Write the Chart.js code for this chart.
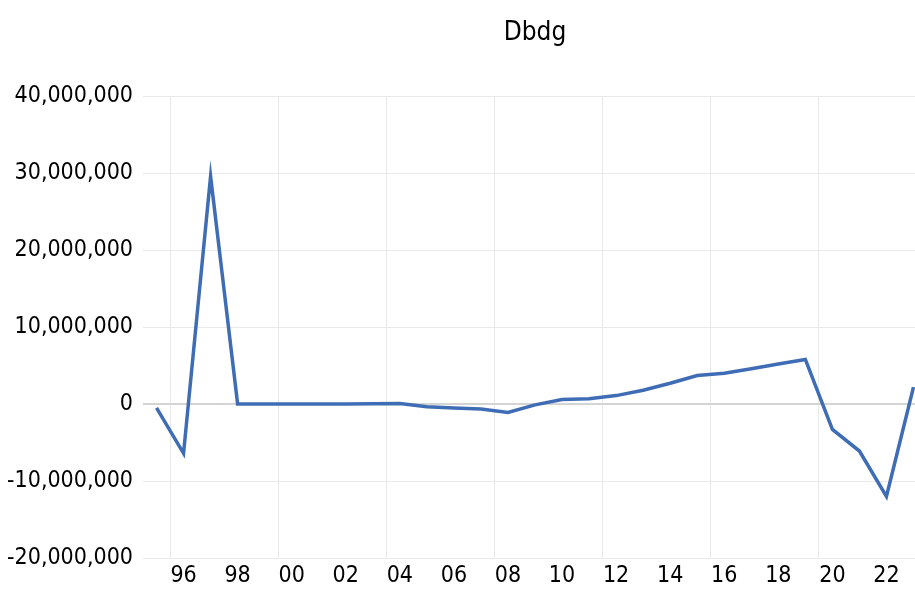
<!DOCTYPE html>
<html>
<head>
<meta charset="utf-8">
<script src="https://cdn.jsdelivr.net/npm/chart.js@4.4.1/dist/chart.umd.min.js"></script>
<style>
  html, body { margin: 0; padding: 0; background: #ffffff; overflow: hidden; }
  /* the reference plot runs a little past the right edge of the picture */
  #wrap { width: 927px; height: 592px; position: relative; }
</style>
</head>
<body>
<div id="wrap"><canvas id="chart"></canvas></div>
<script>
// Data (one value per year)
const years = [1995, 1996, 1997, 1998, 1999, 2000, 2001, 2002, 2003, 2004,
  2005, 2006, 2007, 2008, 2009, 2010, 2011, 2012, 2013, 2014,
  2015, 2016, 2017, 2018, 2019, 2020, 2021, 2022, 2023];
const dbdg = [-500000, -6400000, 29600000, 20000, 10000, 0, 0, 0, 50000, 80000,
  -350000, -500000, -650000, -1100000, -100000, 600000, 700000, 1100000, 1800000, 2700000,
  3700000, 4000000, 4600000, 5200000, 5800000, -3300000, -6100000, -12000000, 2200000];
const chartTitle = 'Dbdg';
const yMin = -20000000;
const yMax = 40000000;
const yStep = 10000000;

const FONT = "'DejaVu Sans Condensed', 'Liberation Sans Narrow', sans-serif";
const LINE_BLUE = '#3f6db5';
const GRID = '#e9e9e9';
const ZERO_LINE = '#d4d4d4';

const canvas = document.getElementById('chart');
new Chart(canvas.getContext('2d'), {
  type: 'line',
  data: {
    labels: years,
    datasets: [{
      label: chartTitle,
      data: dbdg,
      borderColor: LINE_BLUE,
      backgroundColor: LINE_BLUE,
      borderWidth: 3.5,
      pointRadius: 0,
      tension: 0,
      fill: false
    }]
  },
  options: {
    responsive: true,
    maintainAspectRatio: false,
    animation: false,
    layout: { padding: 0 },
    plugins: {
      legend: { display: false },
      tooltip: { enabled: false },
      title: {
        display: true,
        text: chartTitle,
        fullSize: false,
        color: '#000000',
        font: { family: FONT, size: 26, weight: 'normal', lineHeight: 1.2 },
        padding: { top: 18, bottom: 47 }
      }
    },
    scales: {
      x: {
        type: 'category',
        offset: true,
        border: { display: false },
        grid: {
          offset: true,
          drawTicks: false,
          lineWidth: 1,
          // Excel draws a vertical line every 4 years, between categories
          color: (ctx) => ((ctx.index - 1) % 4 === 0 ? GRID : 'transparent')
        },
        ticks: {
          autoSkip: false,
          maxRotation: 0,
          minRotation: 0,
          padding: 4,
          color: '#000000',
          font: { family: FONT, size: 23 },
          callback: function(value, index) {
            const y = years[index];
            return y % 2 === 0 ? String(y).slice(2) : '';
          }
        },
        afterFit: (scale) => { scale.height = 34; }
      },
      y: {
        min: yMin,
        max: yMax,
        border: { display: false },
        grid: {
          drawTicks: false,
          color: (ctx) => (ctx.tick && ctx.tick.value === 0 ? ZERO_LINE : GRID),
          lineWidth: (ctx) => (ctx.tick && ctx.tick.value === 0 ? 2 : 1)
        },
        ticks: {
          stepSize: yStep,
          padding: 10,
          color: '#000000',
          font: { family: FONT, size: 23 },
          callback: (value) => value.toLocaleString('en-US')
        },
        afterFit: (scale) => { scale.width = 143; }
      }
    }
  }
});
</script>
</body>
</html>
